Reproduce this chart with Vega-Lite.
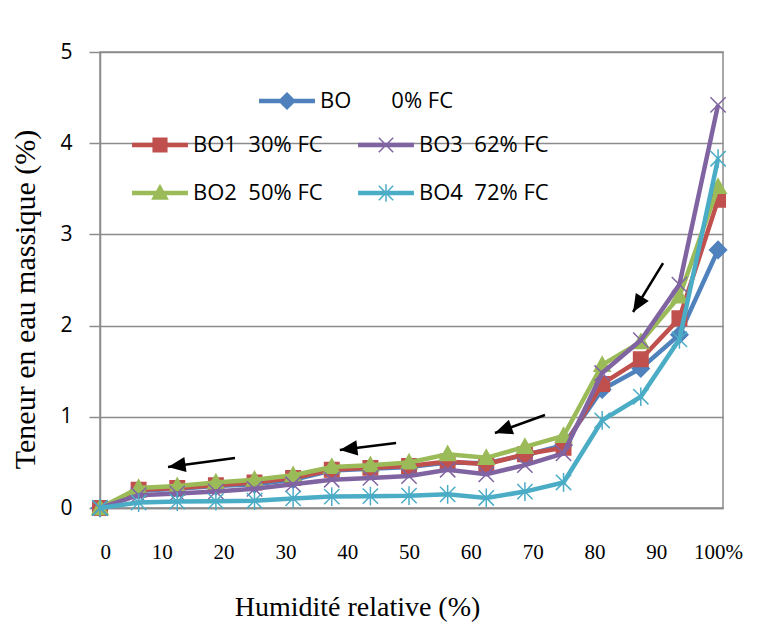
{
  "$schema": "https://vega.github.io/schema/vega-lite/v6.json",
  "width": 623,
  "height": 456,
  "autosize": {"type": "none"},
  "padding": {"left": 100, "top": 52, "right": 47, "bottom": 127},
  "background": "white",
  "datasets": {
    "curves": [
      {"series": "BO", "rh": 0, "w": 0}, {"series": "BO", "rh": 6.25, "w": 0.19}, {"series": "BO", "rh": 12.5, "w": 0.21}, {"series": "BO", "rh": 18.75, "w": 0.24}, {"series": "BO", "rh": 25, "w": 0.26}, {"series": "BO", "rh": 31.25, "w": 0.31}, {"series": "BO", "rh": 37.5, "w": 0.41}, {"series": "BO", "rh": 43.75, "w": 0.43}, {"series": "BO", "rh": 50, "w": 0.45}, {"series": "BO", "rh": 56.25, "w": 0.5}, {"series": "BO", "rh": 62.5, "w": 0.49}, {"series": "BO", "rh": 68.75, "w": 0.58}, {"series": "BO", "rh": 75, "w": 0.69}, {"series": "BO", "rh": 81.25, "w": 1.3}, {"series": "BO", "rh": 87.5, "w": 1.53}, {"series": "BO", "rh": 93.75, "w": 1.9}, {"series": "BO", "rh": 100, "w": 2.83},
      {"series": "BO1", "rh": 0, "w": 0}, {"series": "BO1", "rh": 6.25, "w": 0.2}, {"series": "BO1", "rh": 12.5, "w": 0.22}, {"series": "BO1", "rh": 18.75, "w": 0.25}, {"series": "BO1", "rh": 25, "w": 0.28}, {"series": "BO1", "rh": 31.25, "w": 0.33}, {"series": "BO1", "rh": 37.5, "w": 0.42}, {"series": "BO1", "rh": 43.75, "w": 0.44}, {"series": "BO1", "rh": 50, "w": 0.46}, {"series": "BO1", "rh": 56.25, "w": 0.51}, {"series": "BO1", "rh": 62.5, "w": 0.48}, {"series": "BO1", "rh": 68.75, "w": 0.59}, {"series": "BO1", "rh": 75, "w": 0.66}, {"series": "BO1", "rh": 81.25, "w": 1.36}, {"series": "BO1", "rh": 87.5, "w": 1.63}, {"series": "BO1", "rh": 93.75, "w": 2.08}, {"series": "BO1", "rh": 100, "w": 3.38},
      {"series": "BO2", "rh": 0, "w": 0}, {"series": "BO2", "rh": 6.25, "w": 0.22}, {"series": "BO2", "rh": 12.5, "w": 0.24}, {"series": "BO2", "rh": 18.75, "w": 0.28}, {"series": "BO2", "rh": 25, "w": 0.31}, {"series": "BO2", "rh": 31.25, "w": 0.36}, {"series": "BO2", "rh": 37.5, "w": 0.45}, {"series": "BO2", "rh": 43.75, "w": 0.47}, {"series": "BO2", "rh": 50, "w": 0.5}, {"series": "BO2", "rh": 56.25, "w": 0.59}, {"series": "BO2", "rh": 62.5, "w": 0.55}, {"series": "BO2", "rh": 68.75, "w": 0.67}, {"series": "BO2", "rh": 75, "w": 0.79}, {"series": "BO2", "rh": 81.25, "w": 1.57}, {"series": "BO2", "rh": 87.5, "w": 1.82}, {"series": "BO2", "rh": 93.75, "w": 2.32}, {"series": "BO2", "rh": 100, "w": 3.52},
      {"series": "BO3", "rh": 0, "w": 0}, {"series": "BO3", "rh": 6.25, "w": 0.14}, {"series": "BO3", "rh": 12.5, "w": 0.16}, {"series": "BO3", "rh": 18.75, "w": 0.18}, {"series": "BO3", "rh": 25, "w": 0.21}, {"series": "BO3", "rh": 31.25, "w": 0.26}, {"series": "BO3", "rh": 37.5, "w": 0.31}, {"series": "BO3", "rh": 43.75, "w": 0.33}, {"series": "BO3", "rh": 50, "w": 0.35}, {"series": "BO3", "rh": 56.25, "w": 0.42}, {"series": "BO3", "rh": 62.5, "w": 0.37}, {"series": "BO3", "rh": 68.75, "w": 0.47}, {"series": "BO3", "rh": 75, "w": 0.6}, {"series": "BO3", "rh": 81.25, "w": 1.48}, {"series": "BO3", "rh": 87.5, "w": 1.84}, {"series": "BO3", "rh": 93.75, "w": 2.45}, {"series": "BO3", "rh": 100, "w": 4.42},
      {"series": "BO4", "rh": 0, "w": 0}, {"series": "BO4", "rh": 6.25, "w": 0.06}, {"series": "BO4", "rh": 12.5, "w": 0.07}, {"series": "BO4", "rh": 18.75, "w": 0.075}, {"series": "BO4", "rh": 25, "w": 0.08}, {"series": "BO4", "rh": 31.25, "w": 0.105}, {"series": "BO4", "rh": 37.5, "w": 0.125}, {"series": "BO4", "rh": 43.75, "w": 0.13}, {"series": "BO4", "rh": 50, "w": 0.135}, {"series": "BO4", "rh": 56.25, "w": 0.15}, {"series": "BO4", "rh": 62.5, "w": 0.11}, {"series": "BO4", "rh": 68.75, "w": 0.18}, {"series": "BO4", "rh": 75, "w": 0.28}, {"series": "BO4", "rh": 81.25, "w": 0.96}, {"series": "BO4", "rh": 87.5, "w": 1.22}, {"series": "BO4", "rh": 93.75, "w": 1.85}, {"series": "BO4", "rh": 100, "w": 3.83}
    ],
    "arrows": [
      {"id": 1, "rh": 21.84, "w": 0.548, "rh2": 11.0, "w2": 0.45},
      {"id": 2, "rh": 47.9, "w": 0.713, "rh2": 38.8, "w2": 0.636},
      {"id": 3, "rh": 72.0, "w": 1.02, "rh2": 63.9, "w2": 0.822},
      {"id": 4, "rh": 91.1, "w": 2.686, "rh2": 86.25, "w2": 2.149}
    ]
  },
  "config": {
    "view": {"stroke": "#8c8c8c", "strokeWidth": 1.5},
    "axis": {
      "domainColor": "#8c8c8c", "domainWidth": 1.5,
      "gridColor": "#8c8c8c", "gridWidth": 1.5,
      "tickColor": "#8c8c8c", "tickWidth": 1.5,
      "labelColor": "#000000", "titleColor": "#000000", "titleFontWeight": "normal"
    },
    "legend": {"orient": "none", "title": null, "padding": 0, "symbolSize": 256, "labelOffset": 22, "labelFont": "Open Sans", "labelFontSize": 22, "labelColor": "#000000", "symbolStrokeWidth": 1.5}
  },
  "layer": [
    {
      "data": {"name": "curves"},
      "transform": [{"filter": "datum.series === 'BO'"}],
      "layer": [
        {
          "mark": {"type": "line", "strokeWidth": 4.5, "color": "#4F81BD"},
          "encoding": {
            "x": {"field": "rh", "type": "quantitative", "scale": {"domain": [0, 100.8], "nice": false, "zero": false},
              "axis": {"values": [0, 10, 20, 30, 40, 50, 60, 70, 80, 90, 100], "labelExpr": "datum.value === 100 ? '100%' : datum.label", "grid": false, "ticks": false, "labelPadding": 33, "labelFont": "Liberation Serif", "labelFontSize": 21, "title": "Humidité relative (%)", "titleFont": "Liberation Serif", "titleFontSize": 28, "titleX": 257, "titleY": 99, "titleBaseline": "middle", "titleAlign": "center"}},
            "y": {"field": "w", "type": "quantitative", "scale": {"domain": [0, 5], "nice": false},
              "axis": {"values": [0, 1, 2, 3, 4, 5], "format": "d", "grid": true, "tickSize": 11, "labelPadding": 17, "labelFont": "Open Sans", "labelFontSize": 21, "title": "Teneur en eau massique (%)", "titleFont": "Liberation Serif", "titleFontSize": 30, "titleAngle": 270, "titleX": -75, "titleY": 247, "titleBaseline": "middle", "titleAlign": "center"}}
          }
        },
        {
          "mark": {"type": "point", "filled": true, "size": 289, "strokeWidth": 1.5, "opacity": 1, "stroke": "#4F81BD", "shape": "M0,-1L1,0L0,1L-1,0Z"},
          "encoding": {
            "x": {"field": "rh", "type": "quantitative", "scale": {"domain": [0, 100.8], "nice": false, "zero": false}},
            "y": {"field": "w", "type": "quantitative", "scale": {"domain": [0, 5], "nice": false}},
            "fill": {"field": "series", "type": "nominal", "scale": {"domain": ["BO"], "range": ["#4F81BD"]},
              "legend": {"legendX": 176, "legendY": 38, "symbolType": "M-3.4,-0.2L3.4,-0.2L3.4,0.2L-3.4,0.2ZM0,-1L1,0L0,1L-1,0Z", "symbolStrokeColor": "#4F81BD", "labelExpr": "'BO\u00a0\u00a0\u00a0\u00a0\u00a0\u00a0\u00a00% FC'"}}
          }
        }
      ]
    },
    {
      "data": {"name": "curves"},
      "transform": [{"filter": "datum.series === 'BO1'"}],
      "layer": [
        {
          "mark": {"type": "line", "strokeWidth": 4.5, "color": "#C0504D"},
          "encoding": {
            "x": {"field": "rh", "type": "quantitative", "scale": {"domain": [0, 100.8], "nice": false, "zero": false}},
            "y": {"field": "w", "type": "quantitative", "scale": {"domain": [0, 5], "nice": false}}
          }
        },
        {
          "mark": {"type": "point", "filled": true, "size": 289, "strokeWidth": 1.5, "opacity": 1, "stroke": "#C0504D", "shape": "M-0.85,-0.85L0.85,-0.85L0.85,0.85L-0.85,0.85Z"},
          "encoding": {
            "x": {"field": "rh", "type": "quantitative", "scale": {"domain": [0, 100.8], "nice": false, "zero": false}},
            "y": {"field": "w", "type": "quantitative", "scale": {"domain": [0, 5], "nice": false}},
            "fill": {"field": "series", "type": "nominal", "scale": {"domain": ["BO1"], "range": ["#C0504D"]},
              "legend": {"legendX": 49, "legendY": 82, "symbolType": "M-3.4,-0.2L3.4,-0.2L3.4,0.2L-3.4,0.2ZM-0.85,-0.85L0.85,-0.85L0.85,0.85L-0.85,0.85Z", "symbolStrokeColor": "#C0504D", "labelExpr": "'BO1\u00a0\u00a030% FC'"}}
          }
        }
      ]
    },
    {
      "data": {"name": "curves"},
      "transform": [{"filter": "datum.series === 'BO2'"}],
      "layer": [
        {
          "mark": {"type": "line", "strokeWidth": 4.5, "color": "#9BBB59"},
          "encoding": {
            "x": {"field": "rh", "type": "quantitative", "scale": {"domain": [0, 100.8], "nice": false, "zero": false}},
            "y": {"field": "w", "type": "quantitative", "scale": {"domain": [0, 5], "nice": false}}
          }
        },
        {
          "mark": {"type": "point", "filled": true, "size": 289, "strokeWidth": 1.5, "opacity": 1, "stroke": "#9BBB59", "shape": "M0,-0.95L0.95,0.75L-0.95,0.75Z"},
          "encoding": {
            "x": {"field": "rh", "type": "quantitative", "scale": {"domain": [0, 100.8], "nice": false, "zero": false}},
            "y": {"field": "w", "type": "quantitative", "scale": {"domain": [0, 5], "nice": false}},
            "fill": {"field": "series", "type": "nominal", "scale": {"domain": ["BO2"], "range": ["#9BBB59"]},
              "legend": {"legendX": 49, "legendY": 130, "symbolType": "M-3.4,-0.2L3.4,-0.2L3.4,0.2L-3.4,0.2ZM0,-0.95L0.95,0.75L-0.95,0.75Z", "symbolStrokeColor": "#9BBB59", "labelExpr": "'BO2\u00a0\u00a050% FC'"}}
          }
        }
      ]
    },
    {
      "data": {"name": "curves"},
      "transform": [{"filter": "datum.series === 'BO3'"}],
      "layer": [
        {
          "mark": {"type": "line", "strokeWidth": 4.5, "color": "#8064A2"},
          "encoding": {
            "x": {"field": "rh", "type": "quantitative", "scale": {"domain": [0, 100.8], "nice": false, "zero": false}},
            "y": {"field": "w", "type": "quantitative", "scale": {"domain": [0, 5], "nice": false}}
          }
        },
        {
          "mark": {"type": "point", "filled": true, "size": 289, "strokeWidth": 1.5, "opacity": 1, "stroke": "#8064A2", "shape": "M-0.9,-0.9L0.9,0.9M-0.9,0.9L0.9,-0.9"},
          "encoding": {
            "x": {"field": "rh", "type": "quantitative", "scale": {"domain": [0, 100.8], "nice": false, "zero": false}},
            "y": {"field": "w", "type": "quantitative", "scale": {"domain": [0, 5], "nice": false}},
            "fill": {"field": "series", "type": "nominal", "scale": {"domain": ["BO3"], "range": ["#8064A2"]},
              "legend": {"legendX": 275, "legendY": 82, "symbolType": "M-3.4,-0.2L3.4,-0.2L3.4,0.2L-3.4,0.2ZM-0.9,-0.9L0.9,0.9M-0.9,0.9L0.9,-0.9", "symbolStrokeColor": "#8064A2", "labelExpr": "'BO3\u00a0\u00a062% FC'"}}
          }
        }
      ]
    },
    {
      "data": {"name": "curves"},
      "transform": [{"filter": "datum.series === 'BO4'"}],
      "layer": [
        {
          "mark": {"type": "line", "strokeWidth": 4.5, "color": "#4BACC6"},
          "encoding": {
            "x": {"field": "rh", "type": "quantitative", "scale": {"domain": [0, 100.8], "nice": false, "zero": false}},
            "y": {"field": "w", "type": "quantitative", "scale": {"domain": [0, 5], "nice": false}}
          }
        },
        {
          "mark": {"type": "point", "filled": true, "size": 289, "strokeWidth": 1.5, "opacity": 1, "stroke": "#4BACC6", "shape": "M-0.9,-0.9L0.9,0.9M-0.9,0.9L0.9,-0.9M0,-1.1L0,1.1"},
          "encoding": {
            "x": {"field": "rh", "type": "quantitative", "scale": {"domain": [0, 100.8], "nice": false, "zero": false}},
            "y": {"field": "w", "type": "quantitative", "scale": {"domain": [0, 5], "nice": false}},
            "fill": {"field": "series", "type": "nominal", "scale": {"domain": ["BO4"], "range": ["#4BACC6"]},
              "legend": {"legendX": 275, "legendY": 130, "symbolType": "M-3.4,-0.2L3.4,-0.2L3.4,0.2L-3.4,0.2ZM-0.9,-0.9L0.9,0.9M-0.9,0.9L0.9,-0.9M0,-1.1L0,1.1", "symbolStrokeColor": "#4BACC6", "labelExpr": "'BO4\u00a0\u00a072% FC'"}}
          }
        }
      ]
    },
    {
      "data": {"name": "arrows"},
      "mark": {"type": "rule", "color": "#000000", "strokeWidth": 2.5},
      "encoding": {
        "x": {"field": "rh", "type": "quantitative", "scale": {"domain": [0, 100.8], "nice": false, "zero": false}},
        "y": {"field": "w", "type": "quantitative", "scale": {"domain": [0, 5], "nice": false}},
        "x2": {"field": "rh2"},
        "y2": {"field": "w2"}
      }
    },
    {
      "data": {"name": "arrows"},
      "transform": [{"filter": "datum.id === 1"}],
      "mark": {"type": "point", "filled": true, "color": "#000000", "opacity": 1, "size": 256, "shape": "M0,0L-0.95,2.2L0.95,2.2Z", "angle": 262},
      "encoding": {
        "x": {"field": "rh2", "type": "quantitative", "scale": {"domain": [0, 100.8], "nice": false, "zero": false}},
        "y": {"field": "w2", "type": "quantitative", "scale": {"domain": [0, 5], "nice": false}}
      }
    },
    {
      "data": {"name": "arrows"},
      "transform": [{"filter": "datum.id === 2"}],
      "mark": {"type": "point", "filled": true, "color": "#000000", "opacity": 1, "size": 256, "shape": "M0,0L-0.95,2.2L0.95,2.2Z", "angle": 263},
      "encoding": {
        "x": {"field": "rh2", "type": "quantitative", "scale": {"domain": [0, 100.8], "nice": false, "zero": false}},
        "y": {"field": "w2", "type": "quantitative", "scale": {"domain": [0, 5], "nice": false}}
      }
    },
    {
      "data": {"name": "arrows"},
      "transform": [{"filter": "datum.id === 3"}],
      "mark": {"type": "point", "filled": true, "color": "#000000", "opacity": 1, "size": 256, "shape": "M0,0L-0.95,2.2L0.95,2.2Z", "angle": 250},
      "encoding": {
        "x": {"field": "rh2", "type": "quantitative", "scale": {"domain": [0, 100.8], "nice": false, "zero": false}},
        "y": {"field": "w2", "type": "quantitative", "scale": {"domain": [0, 5], "nice": false}}
      }
    },
    {
      "data": {"name": "arrows"},
      "transform": [{"filter": "datum.id === 4"}],
      "mark": {"type": "point", "filled": true, "color": "#000000", "opacity": 1, "size": 256, "shape": "M0,0L-0.95,2.2L0.95,2.2Z", "angle": 211.5},
      "encoding": {
        "x": {"field": "rh2", "type": "quantitative", "scale": {"domain": [0, 100.8], "nice": false, "zero": false}},
        "y": {"field": "w2", "type": "quantitative", "scale": {"domain": [0, 5], "nice": false}}
      }
    }
  ],
  "resolve": {"scale": {"fill": "independent"}, "legend": {"fill": "independent"}}
}
